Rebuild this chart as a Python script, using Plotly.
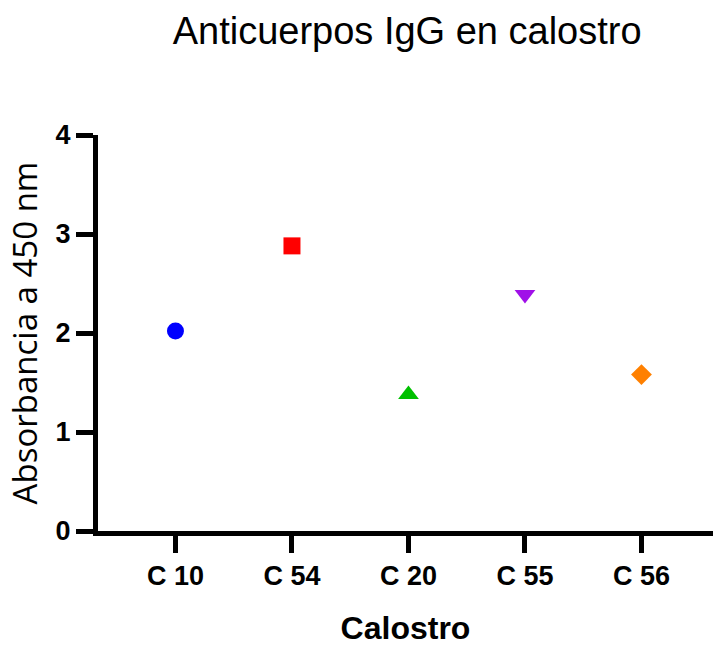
import plotly.graph_objects as go

categories = ["C 10", "C 54", "C 20", "C 55", "C 56"]
values = [2.02, 2.88, 1.38, 2.39, 1.58]
symbols = ["circle", "square", "triangle-up", "triangle-down", "diamond"]
colors = ["#0000FF", "#FF0000", "#00C000", "#A010E8", "#FF8000"]
sizes = [17, 17, 18, 18, 16]
yticks = [0, 1, 2, 3, 4]

fig = go.Figure()
for i, (c, v) in enumerate(zip(categories, values)):
    fig.add_trace(go.Scatter(
        x=[i], y=[v], mode="markers",
        marker=dict(symbol=symbols[i], color=colors[i], size=sizes[i], line=dict(width=0)),
        showlegend=False, name=c,
    ))

fig.update_layout(
    width=713, height=646,
    margin=dict(l=98, r=0, t=135, b=115),
    plot_bgcolor="white", paper_bgcolor="white",
    title=dict(text="Anticuerpos IgG en calostro", x=0.571, xanchor="center", y=0.952, yanchor="middle",
               font=dict(family="Liberation Sans, Arial", size=38, color="black")),
)
fig.update_xaxes(
    range=[-0.665, 4.614],
    tickvals=list(range(len(categories))), ticktext=categories,
    showline=True, linecolor="black", linewidth=5,
    ticks="outside", ticklen=17, tickwidth=5, tickcolor="black",
    showgrid=False, zeroline=False,
    tickfont=dict(family="Liberation Sans, Arial", size=27, color="black", weight="bold"),
    title=dict(text="<b>Calostro</b>", standoff=32,
               font=dict(family="Liberation Sans, Arial", size=32, color="black")),
)
fig.update_yaxes(
    range=[0, 4], tickvals=yticks,
    showline=True, linecolor="black", linewidth=5,
    ticks="outside", ticklen=17, tickwidth=5, tickcolor="black",
    showgrid=False, zeroline=False,
    tickfont=dict(family="Liberation Sans, Arial", size=27, color="black", weight="bold"),
    title=dict(text="Absorbancia a 450 nm", standoff=10,
               font=dict(family="Open Sans", size=33, color="black")),
)

fig.write_html("out.html")
